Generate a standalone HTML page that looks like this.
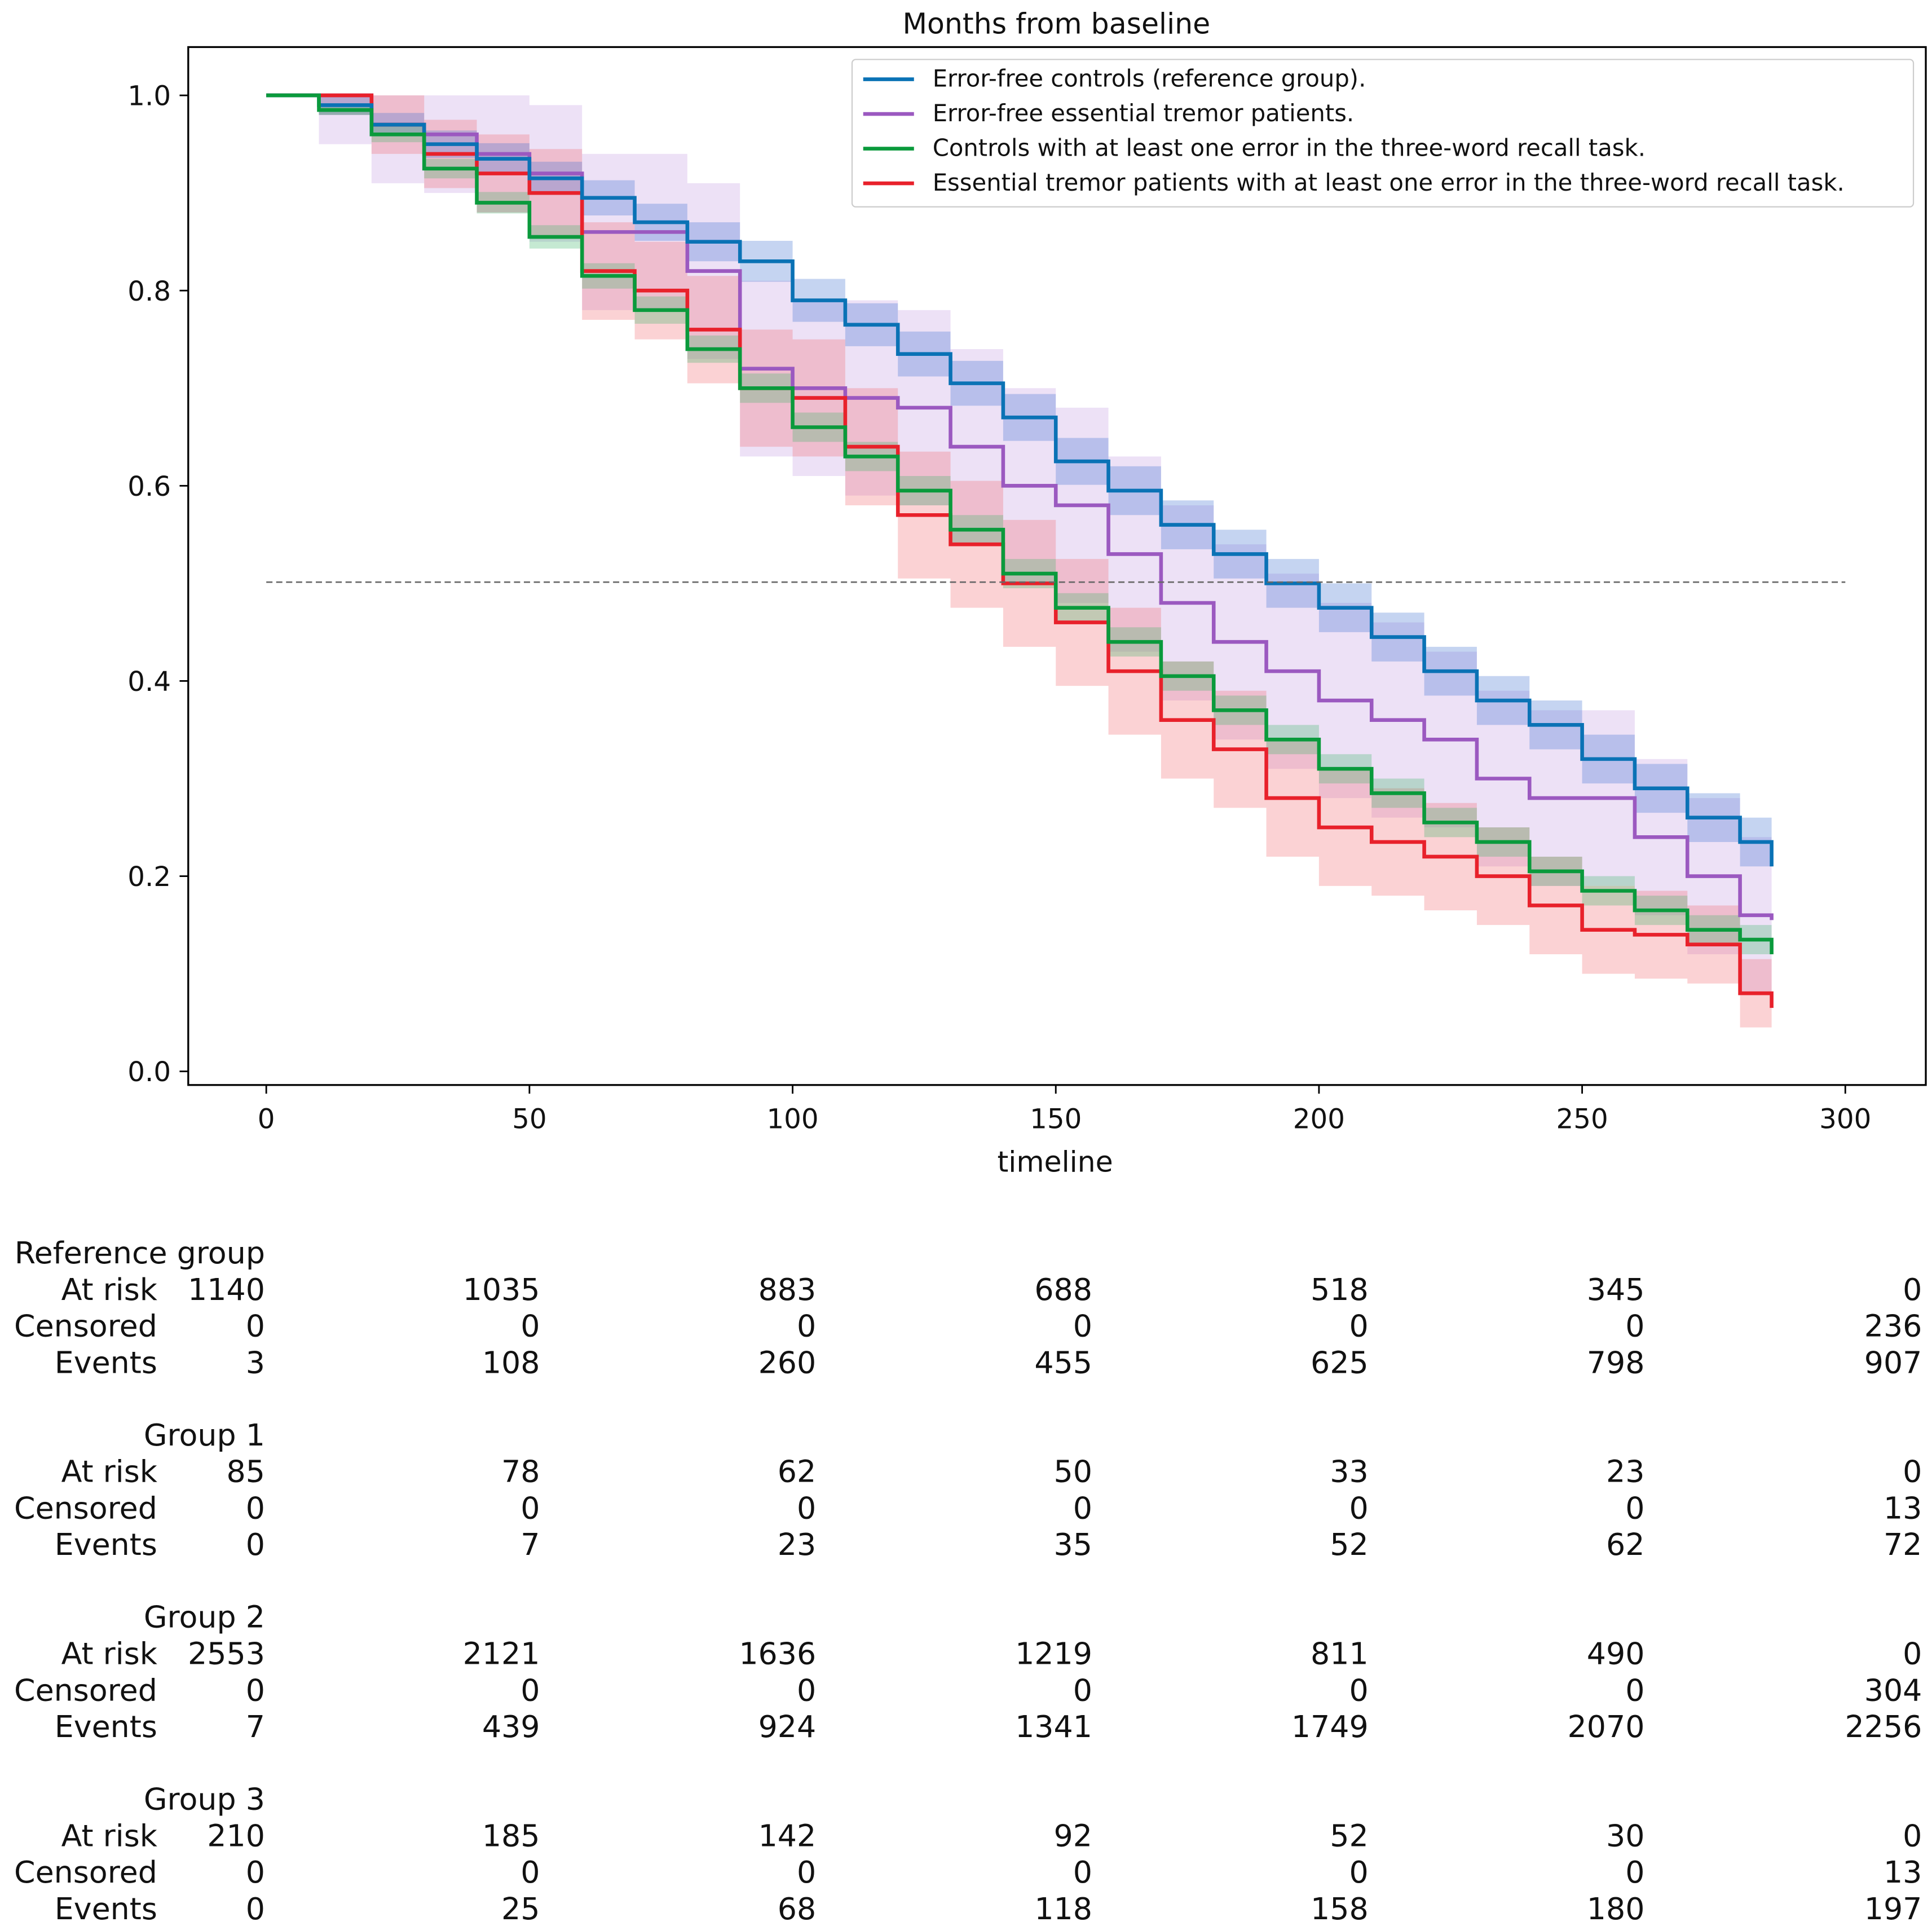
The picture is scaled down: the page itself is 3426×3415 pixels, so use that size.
<!DOCTYPE html>
<html><head><meta charset="utf-8"><style>
html,body{margin:0;padding:0;background:#fff}
svg{display:block}
text{font-family:"DejaVu Sans","Liberation Sans",sans-serif;fill:#111}
</style></head><body>
<svg id="chart" width="3426" height="3415" viewBox="0 0 1560 1555" preserveAspectRatio="none" xmlns="http://www.w3.org/2000/svg">
<text x="853" y="27" text-anchor="middle" font-size="23">Months from baseline</text>
<g id="bands"></g><g id="lines"></g>
<line x1="215" y1="470" x2="1490" y2="470" stroke="#666" stroke-width="1.2" stroke-dasharray="5,3"/>
<rect x="152" y="38" width="1403" height="838" fill="none" stroke="#000" stroke-width="1.5"/>
<g id="axes"></g>
<text x="852" y="946" text-anchor="middle" font-size="23">timeline</text>
<g>
<rect x="688" y="48" width="857" height="119" fill="#fff" fill-opacity="0.85" stroke="#ccc" rx="3"/>
<g id="legend"></g>
</g>
<g id="table"></g>
</svg>
<script>
const times=[0,10,20,30,40,50,60,70,80,90,100,110,120,130,140,150,160,170,180,190,200,210,220,230,240,250,260,270,280,286];
const refSurv=[1,0.99,0.97,0.95,0.935,0.915,0.895,0.87,0.85,0.83,0.79,0.765,0.735,0.705,0.67,0.625,0.595,0.56,0.53,0.5,0.475,0.445,0.41,0.38,0.355,0.32,0.29,0.26,0.235,0.21];
const g1Surv=[1,1,0.97,0.96,0.94,0.92,0.86,0.86,0.82,0.72,0.7,0.69,0.68,0.64,0.6,0.58,0.53,0.48,0.44,0.41,0.38,0.36,0.34,0.3,0.28,0.28,0.24,0.2,0.16,0.155];
const g2Surv=[1,0.985,0.96,0.925,0.89,0.855,0.815,0.78,0.74,0.7,0.66,0.63,0.595,0.555,0.51,0.475,0.44,0.405,0.37,0.34,0.31,0.285,0.255,0.235,0.205,0.185,0.165,0.145,0.135,0.12];
const g3Surv=[1,1,0.97,0.94,0.92,0.9,0.82,0.8,0.76,0.7,0.69,0.64,0.57,0.54,0.5,0.46,0.41,0.36,0.33,0.28,0.25,0.235,0.22,0.2,0.17,0.145,0.14,0.13,0.08,0.065];
const refCI=[0,0.01,0.012,0.014,0.016,0.017,0.018,0.019,0.02,0.021,0.022,0.022,0.023,0.023,0.024,0.024,0.025,0.025,0.025,0.025,0.025,0.025,0.025,0.025,0.025,0.025,0.025,0.025,0.025,0.025];
const g1CI=[0,0.05,0.06,0.06,0.06,0.07,0.08,0.08,0.09,0.09,0.09,0.1,0.1,0.1,0.1,0.1,0.1,0.1,0.1,0.1,0.1,0.1,0.09,0.09,0.09,0.09,0.08,0.08,0.08,0.08];
const g2CI=[0,0.005,0.008,0.01,0.011,0.012,0.013,0.014,0.014,0.015,0.015,0.015,0.015,0.015,0.015,0.015,0.015,0.015,0.015,0.015,0.015,0.015,0.015,0.015,0.015,0.015,0.015,0.015,0.015,0.015];
const g3CI=[0,0.02,0.03,0.035,0.04,0.045,0.05,0.05,0.055,0.06,0.06,0.06,0.065,0.065,0.065,0.065,0.065,0.06,0.06,0.06,0.06,0.055,0.055,0.05,0.05,0.045,0.045,0.04,0.035,0.03];
const xTicks=[0,50,100,150,200,250,300];
const yTicks=[0,0.2,0.4,0.6,0.8,1.0];
const legendLabels=["Error-free controls (reference group).","Error-free essential tremor patients.","Controls with at least one error in the three-word recall task.","Essential tremor patients with at least one error in the three-word recall task."];
const colors=["#0a72b5","#9b59c0","#0a9a3c","#e8212b"];
const fills=["#3f6fd0","#c59ce0","#3fb56a","#f26a70"];
const groupNames=["Reference group","Group 1","Group 2","Group 3"];
const atRisk=[[1140,1035,883,688,518,345,0],[85,78,62,50,33,23,0],[2553,2121,1636,1219,811,490,0],[210,185,142,92,52,30,0]];
const censored=[[0,0,0,0,0,0,236],[0,0,0,0,0,0,13],[0,0,0,0,0,0,304],[0,0,0,0,0,0,13]];
const events=[[3,108,260,455,625,798,907],[0,7,23,35,52,62,72],[7,439,924,1341,1749,2070,2256],[0,25,68,118,158,180,197]];

const NS="http://www.w3.org/2000/svg";
const X=t=>215+t*(1490-215)/300;
const Y=v=>865-v*(865-77);
function mk(tag,attrs,parent){const e=document.createElementNS(NS,tag);for(const k in attrs)e.setAttribute(k,attrs[k]);parent.appendChild(e);return e;}
function stepPts(vals){let p=[];for(let i=0;i<times.length;i++){if(i>0)p.push([X(times[i]),Y(vals[i-1])]);p.push([X(times[i]),Y(vals[i])]);}return p;}
const series=[refSurv,g1Surv,g2Surv,g3Surv],cis=[refCI,g1CI,g2CI,g3CI];
const bandG=document.getElementById('bands'),lineG=document.getElementById('lines');
const order=[1,3,0,2];
order.forEach(i=>{
 const up=series[i].map((v,k)=>Math.min(1,v+cis[i][k])),lo=series[i].map((v,k)=>Math.max(0,v-cis[i][k]));
 const pu=stepPts(up),pl=stepPts(lo).reverse();
 const b=mk('path',{d:'M'+pu.concat(pl).map(p=>p.join(',')).join('L')+'Z',fill:fills[i],'fill-opacity':0.3},bandG);
 
 
});
order.forEach(i=>{
 const l=mk('path',{d:'M'+stepPts(series[i]).map(p=>p.join(',')).join('L'),fill:'none',stroke:colors[i],'stroke-width':3},lineG);
 
 
});
const ax=document.getElementById('axes');
xTicks.forEach(t=>{mk('line',{x1:X(t),x2:X(t),y1:876,y2:883,stroke:'#000','stroke-width':1.3},ax);
 const tx=mk('text',{x:X(t),y:911,'text-anchor':'middle','font-size':22},ax);tx.textContent=t;
 
 });
yTicks.forEach(v=>{mk('line',{x1:145,x2:152,y1:Y(v),y2:Y(v),stroke:'#000','stroke-width':1.3},ax);
 const tx=mk('text',{x:138,y:Y(v)+8,'text-anchor':'end','font-size':22},ax);tx.textContent=v.toFixed(1);
 
 });
const lg=document.getElementById('legend');
legendLabels.forEach((s,i)=>{const y=64+i*28;
 mk('line',{x1:697,x2:738,y1:y,y2:y,stroke:colors[i],'stroke-width':3},lg);
 const tx=mk('text',{x:753,y:y+6,'font-size':19},lg);tx.textContent=s;
 
 });
const tb=document.getElementById('table');
const colX=[214,436,659,882,1105,1328,1552];
groupNames.forEach((g,gi)=>{const y0=1020+gi*147;
 const h=mk('text',{x:214,y:y0,'text-anchor':'end','font-size':24.5},tb);h.textContent=g;
 
 
 [['At risk',atRisk],['Censored',censored],['Events',events]].forEach((r,ri)=>{const y=y0+29.5*(ri+1);
  const lb=mk('text',{x:127,y:y,'text-anchor':'end','font-size':24.5},tb);lb.textContent=r[0];
  
  
  r[1][gi].forEach((v,ci)=>{const c=mk('text',{x:colX[ci],y:y,'text-anchor':'end','font-size':24.5},tb);c.textContent=v;
   
   });
 });
});
</script>
</body></html>
